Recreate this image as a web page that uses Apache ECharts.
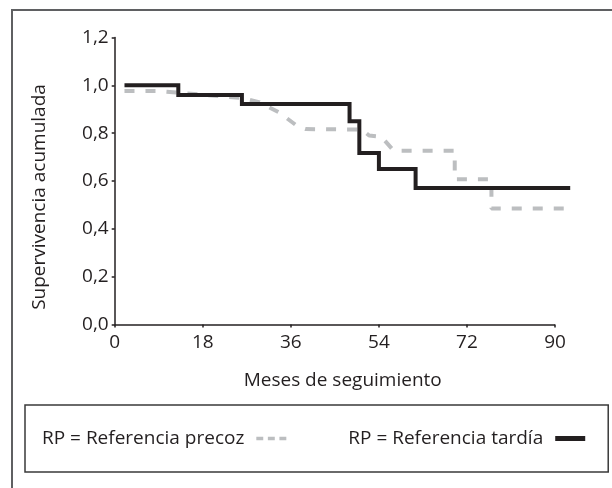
<!DOCTYPE html>
<html>
<head>
<meta charset="utf-8">
<script src="https://cdn.jsdelivr.net/npm/echarts@6/dist/echarts.min.js"></script>
<style>
html,body{margin:0;padding:0;background:#fff;}
#chart{width:612px;height:488px;}
</style>
</head>
<body>
<div id="chart"></div>
<script>
// ---- data ----
const xTickValues = [0, 18, 36, 54, 72, 90];
const seriesNames = ['RP = Referencia precoz', 'RP = Referencia tardía'];
// Referencia tardía (Kaplan-Meier steps: time, survival after event)
const tardiaTimes = [2, 13, 26, 48, 50, 54, 61.5, 93.1];
const tardiaSurv  = [1.0, 0.96, 0.922, 0.85, 0.717, 0.65, 0.571, 0.571];
// Referencia precoz (curve vertices)
const precozTimes = [2, 9, 26, 29.5, 33.5, 37.5, 39, 50.5, 52, 54.5, 57, 69.5, 69.5, 77, 77, 93.1];
const precozSurv  = [0.976, 0.976, 0.947, 0.93, 0.888, 0.827, 0.817, 0.815, 0.79, 0.785, 0.727, 0.727, 0.607, 0.607, 0.485, 0.485];
const axisTitles = { x: 'Meses de seguimiento', y: 'Supervivencia acumulada' };

const zip = (a, b) => a.map((v, i) => [v, b[i]]);
const FONT = '"Open Sans", "Noto Sans", sans-serif';
const INK = '#231f20';

const chart = echarts.init(document.getElementById('chart'), null, { renderer: 'canvas' });
chart.setOption({
  animation: false,
  backgroundColor: '#fff',
  graphic: [
    { type: 'rect', shape: { x: 12, y: 10, width: 700, height: 600 }, style: { fill: 'none', stroke: '#5f6062', lineWidth: 2 }, silent: true, z: 0 },
    { type: 'text', x: 40, y: 197, rotation: Math.PI / 2,
      style: { text: axisTitles.y, x: 0, y: 0, align: 'center', verticalAlign: 'middle', font: '19px ' + FONT, fill: INK } }
  ],
  grid: { left: 114.7, right: 41.3, top: 37.5, bottom: 163.5, containLabel: false },
  legend: {
    left: 25, top: 405,
    padding: [24, 23, 24, 17],
    borderColor: '#3a3a3a', borderWidth: 1.5,
    align: 'right',
    itemGap: 62,
    itemWidth: 30, itemHeight: 5,
    textStyle: { fontFamily: FONT, fontSize: 19, color: INK, padding: [0, 7, 0, 0] },
    data: [
      { name: seriesNames[0], icon: 'path://M0,5 L6,5 L6,8 L0,8 Z M10,5 L16,5 L16,8 L10,8 Z M20,5 L26,5 L26,8 L20,8 Z', itemStyle: { color: '#bcbec0' } },
      { name: seriesNames[1], icon: 'rect', itemStyle: { color: INK } }
    ]
  },
  xAxis: {
    type: 'value', min: 0, max: 93.2,
    name: axisTitles.x, nameLocation: 'middle', nameGap: 47,
    nameTextStyle: { fontFamily: FONT, fontSize: 19, color: INK },
    axisLine: { show: false },
    axisTick: { show: true, customValues: xTickValues, length: 3, inside: false, lineStyle: { color: INK, width: 1.5 } },
    axisLabel: { customValues: xTickValues, margin: 9, fontFamily: FONT, fontSize: 19, color: INK },
    splitLine: { show: false }
  },
  yAxis: {
    type: 'value', min: 0, max: 1.2, interval: 0.2,
    axisLine: { show: true, lineStyle: { color: INK, width: 1.5 } },
    axisTick: { show: true, length: 3, lineStyle: { color: INK, width: 1.5 } },
    axisLabel: { margin: 6, fontFamily: FONT, fontSize: 19, color: INK,
      formatter: v => v.toFixed(1).replace('.', ',') },
    splitLine: { show: false }
  },
  series: [
    {
      name: seriesNames[0], type: 'line', data: zip(precozTimes, precozSurv),
      symbol: 'none', showSymbol: false,
      lineStyle: { color: '#bcbec0', width: 4, type: [10, 11], cap: 'butt' },
      itemStyle: { color: '#bcbec0' }, z: 2
    },
    {
      name: seriesNames[1], type: 'line', step: 'end', data: zip(tardiaTimes, tardiaSurv),
      symbol: 'none', showSymbol: false,
      lineStyle: { color: INK, width: 4, join: 'miter' },
      itemStyle: { color: INK }, z: 3,
      markLine: {
        silent: true, symbol: 'none', label: { show: false }, animation: false,
        lineStyle: { color: INK, width: 1.5, type: 'solid' },
        data: [[{ coord: [xTickValues[0], 0] }, { coord: [xTickValues[xTickValues.length - 1], 0] }]]
      }
    }
  ]
});
</script>
</body>
</html>
